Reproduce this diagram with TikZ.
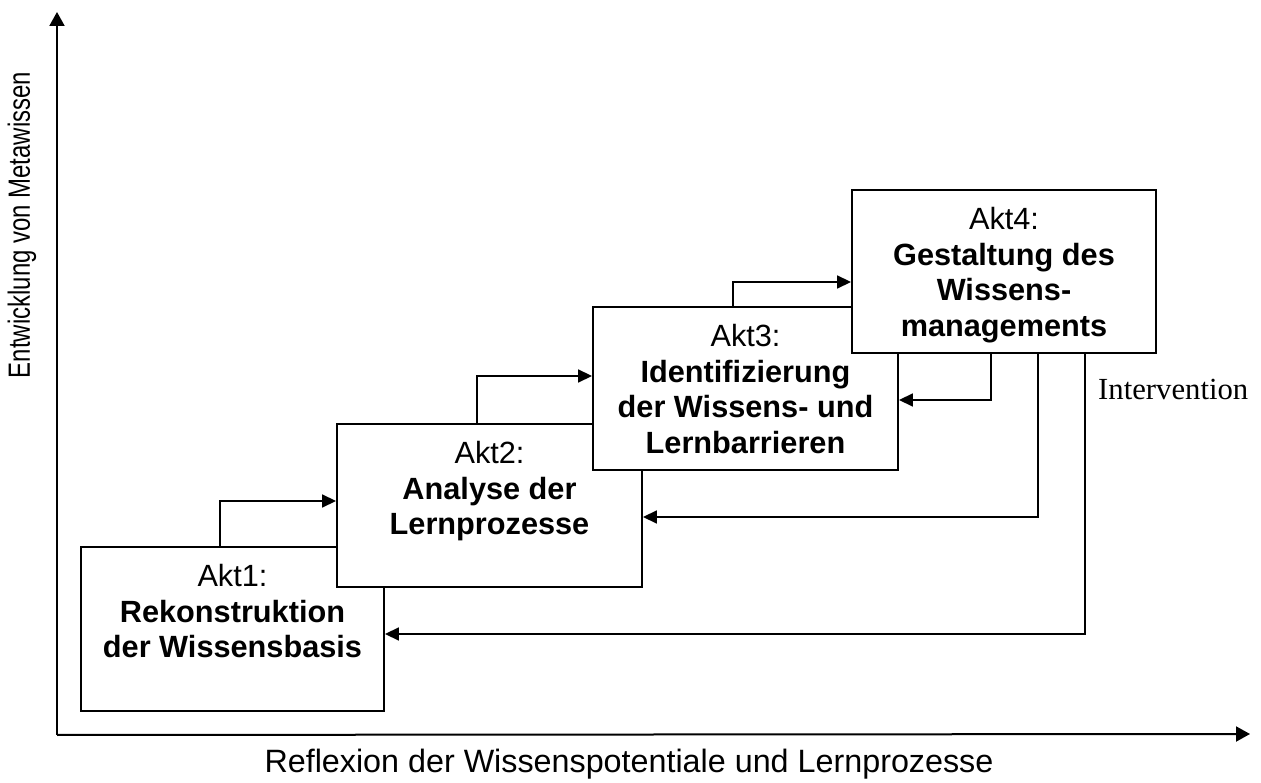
\documentclass[tikz,border=0pt]{standalone}
\usepackage{fontspec}
\setmainfont{Liberation Sans}
\newfontfamily\timesfont{Liberation Serif}
\usetikzlibrary{arrows.meta,calc}

\tikzset{
  actbox/.style={draw, line width=1.9pt, fill=white, minimum width=#1, minimum height=163pt, inner sep=0pt},
  acttext/.style={anchor=north, align=center, inner sep=0pt,
    font=\fontsize{30.7}{35.6}\selectfont},
  flow/.style={draw, line width=1.7pt, -{Triangle[length=14pt,width=13pt]}},
  axis/.style={draw, line width=2pt, -{Triangle[length=14pt,width=15pt]}},
  axlabel/.style={inner sep=0pt, font=\fontsize{30.7}{35.6}\selectfont},
}

\begin{document}
\begin{tikzpicture}[x=1pt,y=1pt]
  \useasboundingbox (0,0) rectangle (1261,782);

  % axes
  \coordinate (origin) at (57,47);
  \coordinate (ytip) at (57,770);
  \coordinate (xtip) at (1250,48);
  \draw[axis] (origin) -- (ytip);
  \draw[axis] (origin) -- (xtip);
  \node[axlabel, rotate=90] (ylab) at (22,557) {\scalebox{0.78}[1]{Entwicklung von Metawissen}};
  \node[axlabel, font=\fontsize{32.3}{36}\selectfont] (xlab) at (629,18) {Reflexion der Wissenspotentiale und Lernprozesse};

  % the four acts
  \node[actbox=303pt, minimum height=164pt] (a1) at (232.5,153) {};
  \node[actbox=305pt] (a2) at (489.5,276.5) {};
  \node[actbox=305pt] (a3) at (745.5,393.5) {};
  \node[actbox=304pt] (a4) at (1004,510.5) {};

  \node[acttext] (t1) at ([yshift=-18pt]a1.north) {Akt1:\\\textbf{Rekonstruktion}\\\textbf{der Wissensbasis}};
  \node[acttext] (t2) at ([yshift=-18pt]a2.north) {Akt2:\\\textbf{Analyse der}\\\textbf{Lernprozesse}};
  \node[acttext] (t3) at ([yshift=-18pt]a3.north) {Akt3:\\\textbf{Identifizierung}\\\textbf{der Wissens- und}\\\textbf{Lernbarrieren}};
  \node[acttext] (t4) at ([yshift=-18pt]a4.north) {Akt4:\\\textbf{Gestaltung des}\\\textbf{Wissens-}\\\textbf{managements}};

  % forward steps
  \draw[flow] ([xshift=140pt]a1.north west) |- ([yshift=4.5pt]a2.west);
  \draw[flow] ([xshift=141pt]a2.north west) |- ([yshift=12.5pt]a3.west);
  \draw[flow] ([xshift=141pt]a3.north west) |- ([yshift=-10.5pt]a4.west);

  % feedback from act 4
  \draw[flow] ([xshift=140pt]a4.south west) |- ([yshift=-11.5pt]a3.east);
  \draw[flow] ([xshift=187pt]a4.south west) |- ([yshift=-11.5pt]a2.east);
  \draw[flow] ([xshift=234pt]a4.south west) |- ([yshift=-5pt]a1.east);

  \node[anchor=base west, inner sep=0pt, font=\timesfont\fontsize{30.7}{35.6}\selectfont] (interv) at (1098,382) {Intervention};
\end{tikzpicture}
\end{document}
